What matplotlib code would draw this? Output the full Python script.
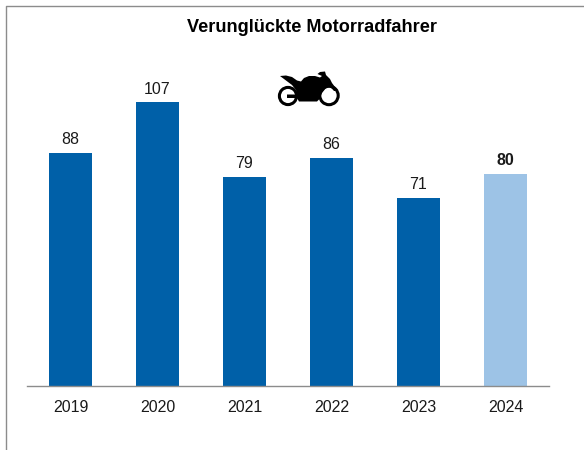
import matplotlib
matplotlib.use('Agg')
import matplotlib.pyplot as plt
from matplotlib.patches import Circle, Polygon
from matplotlib.lines import Line2D
from matplotlib.transforms import Affine2D

plt.rcParams['font.family'] = ['Liberation Sans', 'DejaVu Sans']

W, H = 584, 450

# Daten
years = ['2019', '2020', '2021', '2022', '2023', '2024']
values = [88, 107, 79, 86, 71, 80]
bar_colors = ['#0060A8', '#0060A8', '#0060A8', '#0060A8', '#0060A8', '#9DC3E6']
label_weights = ['normal', 'normal', 'normal', 'normal', 'normal', 'bold']

fig = plt.figure(figsize=(W / 100, H / 100), dpi=100)
ax = fig.add_axes([27 / W, 1 - 386 / H, 522 / W, 340 / H])

ax.bar(years, values, width=0.495, color=bar_colors)
for i, v in enumerate(values):
    ax.annotate(str(v), (i, v), xytext=(0, 4.2), textcoords='offset points',
                ha='center', va='bottom', fontsize=11.5, color='#1a1a1a',
                fontweight=label_weights[i])

ax.set_xlim(-0.5, 5.5)
ax.set_ylim(0, 340 / 2.65)
ax.set_yticks([])
for s in ['top', 'left', 'right']:
    ax.spines[s].set_visible(False)
ax.spines['bottom'].set_color('#8c8c8c')
ax.spines['bottom'].set_linewidth(1)
ax.tick_params(axis='x', length=0, pad=9.8, labelsize=11.5, labelcolor='#1a1a1a')

fig.text(312 / W, 1 - 27 / H, 'Verunglückte Motorradfahrer', ha='center', va='center',
         fontsize=13.1, fontweight='bold', color='black')

# Rahmen links und oben
px = Affine2D().scale(1, -1).translate(0, H)
fig.add_artist(Line2D([6, 6, W], [H, 6, 6], transform=px, color='#8c8c8c', lw=1))

# Motorrad-Symbol (Pixelkoordinaten)
body = [(280, 76), (286, 75.5), (292, 77), (297, 80.5), (301, 81.5), (304, 78), (309, 76),
        (315, 76), (320, 77.5), (322, 76), (317.5, 74), (320, 72), (325, 71.5), (326, 75),
        (330, 79), (332, 83), (338, 91), (334, 91), (330, 86.5), (326, 88), (322, 93),
        (319.5, 99), (317, 101.5), (299, 101.5), (297, 98), (287, 98), (287, 94.5),
        (297, 94.5), (296, 90), (292, 85), (286, 80.5)]
fig.add_artist(Polygon(body, closed=True, transform=px, facecolor='black', edgecolor='none'))
for cx, cy, r in [(288, 96, 8.6), (329, 95.5, 9.2)]:
    fig.add_artist(Circle((cx, cy), r, transform=px, facecolor='none', edgecolor='black', lw=2.2))

fig.savefig('out.png', dpi=100)
